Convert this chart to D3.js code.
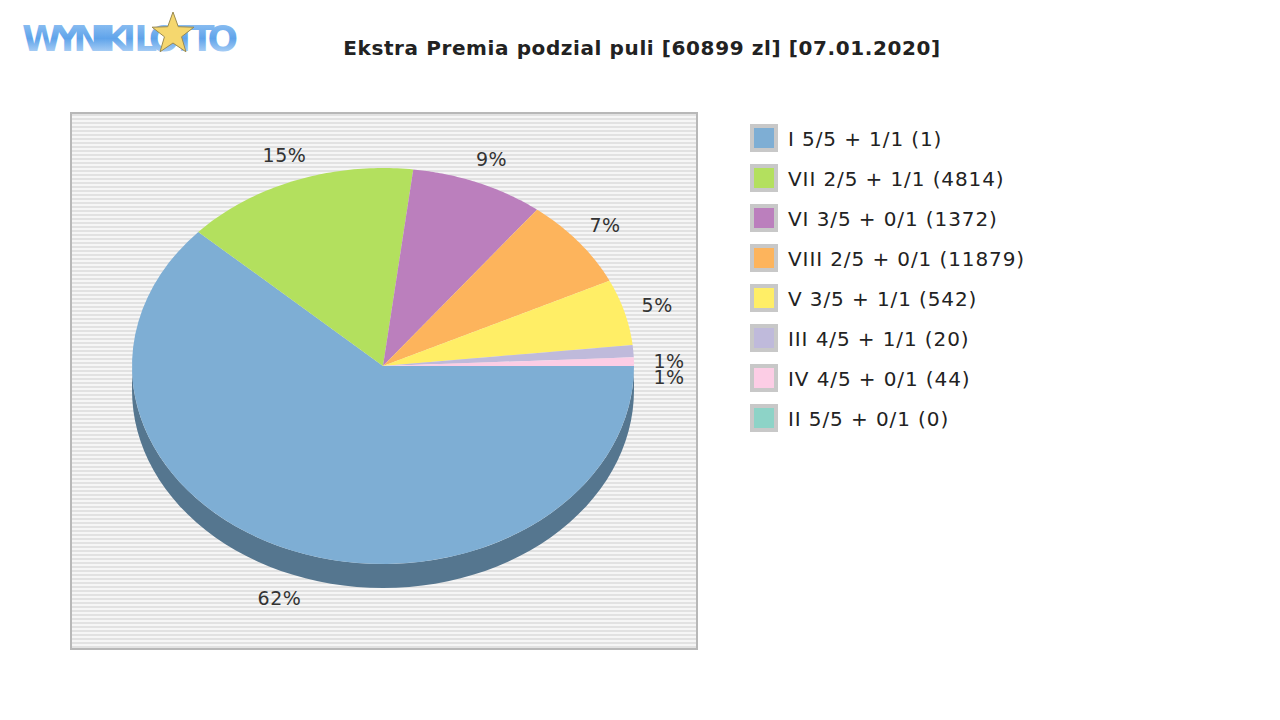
<!DOCTYPE html>
<html><head><meta charset="utf-8">
<script src="https://cdn.jsdelivr.net/npm/d3@7"></script>
<style>body{margin:0;background:#fff}text{font-family:"DejaVu Sans",sans-serif}</style>
</head><body><div id="chart"></div>
<script>
// slice data (percent of pool)
let labels = ["I 5/5 + 1/1 (1)", "VII 2/5 + 1/1 (4814)", "VI 3/5 + 0/1 (1372)", "VIII 2/5 + 0/1 (11879)",
              "V 3/5 + 1/1 (542)", "III 4/5 + 1/1 (20)", "IV 4/5 + 0/1 (44)", "II 5/5 + 0/1 (0)"]
let shares = [61.9, 15.1, 8.6, 7.4, 5.4, 1.0, 0.7, 0]
let pctText = ["62%", "15%", "9%", "7%", "5%", "1%", "1%", ""]
let colors = ["#7eaed4", "#b3e05e", "#bb7fbd", "#fdb45c", "#ffee66", "#bfbadb", "#fccde5", "#8dd3c7"]

let width = 1280, height = 720
let svg = d3.select("#chart").append("svg").attr("width", width).attr("height", height)

// logo
let grad = svg.append("defs").append("linearGradient").attr("id", "lg").attr("x1", 0).attr("x2", 0).attr("y1", 0).attr("y2", 1)
grad.append("stop").attr("offset", "0").attr("stop-color", "#9cc8f4")
grad.append("stop").attr("offset", "0.5").attr("stop-color", "#5fa3ea")
grad.append("stop").attr("offset", "1").attr("stop-color", "#cfe4fa")
svg.append("text").attr("x", 22).attr("y", 51).attr("font-size", 36).attr("font-weight", "bold")
  .attr("font-family", "DejaVu Sans Condensed").attr("fill", "url(#lg)")
  .attr("textLength", 216).attr("lengthAdjust", "spacing").text("WYNIKI LOTTO")
let star = d3.range(10).map(i => {
  let a = -Math.PI / 2 + i * Math.PI / 5, r = i % 2 ? 9 : 22
  return [173 + r * Math.cos(a), 34 + r * Math.sin(a)]
})
svg.append("polygon").attr("points", star.join(" ")).attr("fill", "#f5d76e").attr("stroke", "#9a8a50")

svg.append("text").attr("x", 642).attr("y", 55).attr("text-anchor", "middle").attr("font-size", 20)
  .attr("letter-spacing", 0.6).attr("font-weight", "bold").attr("fill", "#222")
  .text("Ekstra Premia podzial puli [60899 zl] [07.01.2020]")

// plot area with stripes
let px0 = 71, px1 = 697, py0 = 113, py1 = 649
svg.append("rect").attr("x", px0).attr("y", py0).attr("width", px1 - px0).attr("height", py1 - py0).attr("fill", "#f6f6f6")
svg.append("g").selectAll("line").data(d3.range(py0 + 2, py1, 4)).join("line")
  .attr("x1", px0).attr("x2", px1).attr("y1", d => d).attr("y2", d => d).attr("stroke", "#e2e2e2").attr("stroke-width", 2)
svg.append("rect").attr("x", px0).attr("y", py0).attr("width", px1 - px0).attr("height", py1 - py0)
  .attr("fill", "none").attr("stroke", "#b8b8b8").attr("stroke-width", 2)

// 3d pie
let cx = 383, cy = 366, rx = 251, ry = 198, depth = 24
let total = d3.sum(shares)
let ang = d3.scaleLinear().domain([0, total]).range([0, -2 * Math.PI]) // clockwise from east
let cum = 0
let slices = shares.map((v, i) => { let s = { i, a0: ang(cum), a1: ang(cum + v) }; cum += v; return s })
let pt = (t, dy = 0) => [cx + rx * Math.cos(t), cy - ry * Math.sin(t) + dy]
let arcPts = (a0, a1, dy = 0) => d3.range(0, 61).map(k => pt(a0 + (a1 - a0) * k / 60, dy))

// side walls (lower half only)
slices.forEach(s => {
  if (s.a0 === s.a1) return
  let a = Math.min(s.a0, 0), b = Math.max(s.a1, -Math.PI)
  if (a <= b) return
  let top = arcPts(a, b), bot = arcPts(b, a, depth)
  svg.append("path").attr("d", d3.line()(top.concat(bot)) + "Z")
    .attr("fill", d3.color(colors[s.i]).darker(1.1))
})
slices.forEach(s => {
  if (s.a0 === s.a1) return
  svg.append("path").attr("d", d3.line()([[cx, cy]].concat(arcPts(s.a0, s.a1))) + "Z").attr("fill", colors[s.i])
})

// labels
slices.forEach(s => {
  if (!pctText[s.i]) return
  let m = (s.a0 + s.a1) / 2
  let x = cx + (rx + 34) * Math.cos(m), y = cy - (ry + 26) * Math.sin(m) + (Math.sin(m) < -0.2 ? depth : 0)
  if (s.i === 5) { x = 669; y = 361 }
  if (s.i === 6) { x = 669; y = 377 }
  svg.append("text").attr("x", x).attr("y", y).attr("dy", "0.35em").attr("text-anchor", "middle")
    .attr("font-size", 19).attr("letter-spacing", 0.5).attr("fill", "#333").text(pctText[s.i])
})

// legend
let lg = svg.append("g").selectAll("g").data(labels).join("g").attr("transform", (d, i) => `translate(750,${124 + i * 40})`)
lg.append("rect").attr("width", 28).attr("height", 28).attr("fill", "#c8c8c8")
lg.append("rect").attr("x", 4).attr("y", 4).attr("width", 20).attr("height", 20).attr("fill", (d, i) => colors[i])
lg.append("text").attr("x", 38).attr("y", 15).attr("dy", "0.35em").attr("font-size", 20)
  .attr("letter-spacing", 0.9).attr("fill", "#222").text(d => d)
</script></body></html>
